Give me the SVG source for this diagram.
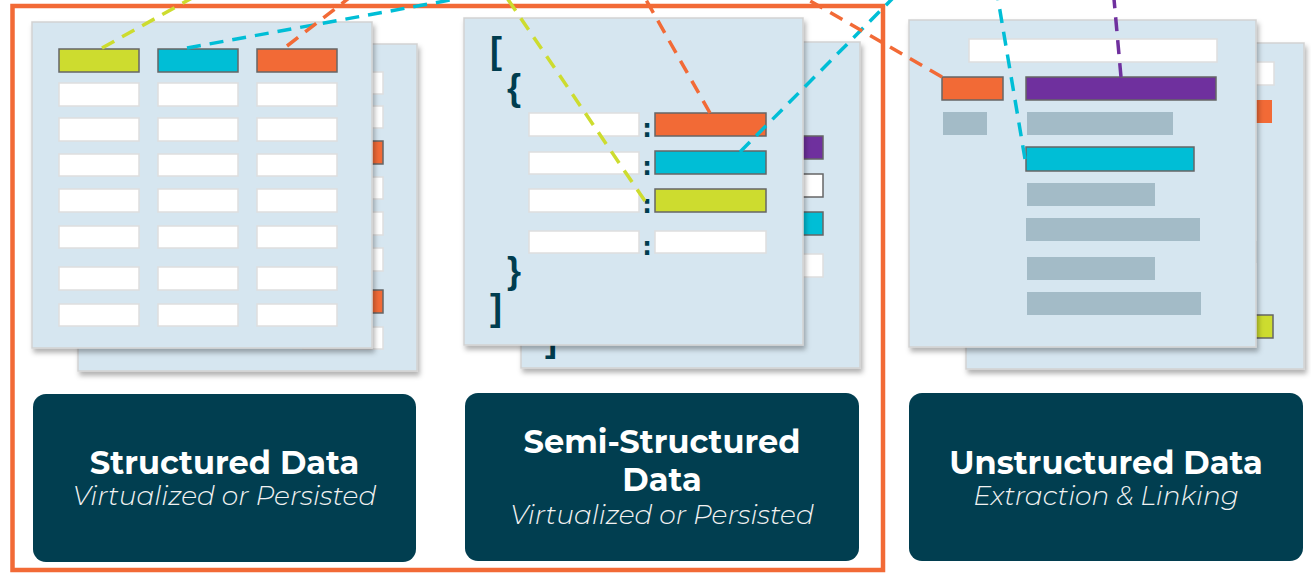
<svg xmlns="http://www.w3.org/2000/svg" width="1311" height="573" viewBox="0 0 1311 573">
<style>
.page{fill:#d6e6f0;stroke:#d2d2d2;stroke-width:1.5;filter:url(#sh)}
.cell{fill:#fff;stroke:#dedede;stroke-width:1.5}
.hd{stroke:#666;stroke-width:1.5}
.or{fill:#f26a36}.cy{fill:#00bed6}.yg{fill:#cddc2f}.pu{fill:#6f309e}
.bar{fill:#a3bbc7}
.box{fill:#013e50}
.t1{font-family:"Montserrat","Open Sans","Liberation Sans",sans-serif;font-weight:700;font-size:32px;fill:#fff;text-anchor:middle}
.t2{font-family:"Montserrat","Open Sans","Liberation Sans",sans-serif;font-weight:300;font-style:italic;font-size:26.5px;fill:#f2f2f2;text-anchor:middle}
.br{font-family:"Liberation Sans",sans-serif;font-weight:700;font-size:36px;fill:#003d4f}
.cl{font-family:"DejaVu Sans",sans-serif;font-weight:700;font-size:24px;fill:#003d4f;text-anchor:middle}
.dl{fill:none;stroke-width:3.5;stroke-dasharray:14 9}
</style>
<defs>
<filter id="sh" x="-10%" y="-10%" width="130%" height="130%">
<feDropShadow dx="2" dy="4" stdDeviation="2.5" flood-color="#000" flood-opacity="0.3"/>
</filter>
</defs>
<rect x="0" y="0" width="1311" height="573" fill="#fff"/>
<rect id="frame" x="12.5" y="6" width="870.5" height="564" fill="none" stroke="#f26a36" stroke-width="4.5"/>

<g id="structured">
<rect class="page" x="78" y="44" width="339" height="327"/>
<rect class="cell" x="303" y="72" width="80" height="22"/>
<rect class="cell" x="303" y="106" width="80" height="22"/>
<rect class="or hd" x="303" y="141" width="80" height="23"/>
<rect class="cell" x="303" y="177" width="80" height="22"/>
<rect class="cell" x="303" y="212" width="80" height="23"/>
<rect class="cell" x="303" y="248" width="80" height="23"/>
<rect class="or hd" x="303" y="290" width="80" height="23"/>
<rect class="cell" x="303" y="327" width="80" height="22"/>
<rect class="page" x="32" y="22" width="340" height="326"/>
<rect class="yg hd" x="59" y="49" width="80" height="23"/>
<rect class="cy hd" x="158" y="49" width="80" height="23"/>
<rect class="or hd" x="257" y="49" width="80" height="23"/>
<g>
<rect class="cell" x="59" y="83" width="80" height="23"/><rect class="cell" x="158" y="83" width="80" height="23"/><rect class="cell" x="257" y="83" width="80" height="23"/>
<rect class="cell" x="59" y="118" width="80" height="23"/><rect class="cell" x="158" y="118" width="80" height="23"/><rect class="cell" x="257" y="118" width="80" height="23"/>
<rect class="cell" x="59" y="154" width="80" height="22"/><rect class="cell" x="158" y="154" width="80" height="22"/><rect class="cell" x="257" y="154" width="80" height="22"/>
<rect class="cell" x="59" y="189" width="80" height="23"/><rect class="cell" x="158" y="189" width="80" height="23"/><rect class="cell" x="257" y="189" width="80" height="23"/>
<rect class="cell" x="59" y="226" width="80" height="22"/><rect class="cell" x="158" y="226" width="80" height="22"/><rect class="cell" x="257" y="226" width="80" height="22"/>
<rect class="cell" x="59" y="267" width="80" height="23"/><rect class="cell" x="158" y="267" width="80" height="23"/><rect class="cell" x="257" y="267" width="80" height="23"/>
<rect class="cell" x="59" y="304" width="80" height="22"/><rect class="cell" x="158" y="304" width="80" height="22"/><rect class="cell" x="257" y="304" width="80" height="22"/>
</g>
<rect class="box" x="33" y="394" width="383" height="168" rx="13"/>
<text class="t1" x="224.5" y="474">Structured Data</text>
<text class="t2" x="224.5" y="505">Virtualized or Persisted</text>
</g>

<g id="semi">
<rect class="page" x="521" y="42" width="339" height="326"/>
<text class="br" x="545" y="351">]</text>
<rect class="pu hd" x="712" y="136" width="111" height="23"/>
<rect x="712" y="174" width="111" height="23" fill="#fff" stroke="#666" stroke-width="1.5"/>
<rect class="cy hd" x="712" y="212" width="111" height="23"/>
<rect class="cell" x="712" y="254" width="111" height="23"/>
<rect class="page" x="464" y="18" width="339" height="327"/>
<text class="br" x="490" y="63">[</text>
<text class="br" x="507" y="100">{</text>
<text class="br" x="507" y="283">}</text>
<text class="br" x="490" y="320">]</text>
<rect class="cell" x="529" y="113" width="110" height="23"/>
<rect class="cell" x="529" y="152" width="110" height="22"/>
<rect class="cell" x="529" y="189" width="110" height="23"/>
<rect class="cell" x="529" y="231" width="110" height="22"/>
<text class="cl" x="647" y="137">:</text>
<text class="cl" x="647" y="175">:</text>
<text class="cl" x="647" y="213">:</text>
<text class="cl" x="647" y="255">:</text>
<rect class="or hd" x="655" y="113" width="111" height="23"/>
<rect class="cy hd" x="655" y="151" width="111" height="23"/>
<rect class="yg hd" x="655" y="189" width="111" height="23"/>
<rect class="cell" x="655" y="231" width="111" height="22"/>
<rect class="box" x="465" y="393" width="394" height="168" rx="13"/>
<text class="t1" x="662" y="453">Semi-Structured</text>
<text class="t1" x="662" y="491">Data</text>
<text class="t2" x="662" y="524">Virtualized or Persisted</text>
</g>

<g id="unstructured">
<rect class="page" x="966" y="43" width="338" height="326"/>
<rect class="cell" x="1230" y="62" width="44" height="23"/>
<rect class="or" x="1230" y="100" width="42" height="23"/>
<rect class="bar" x="1230" y="241" width="27" height="22"/>
<rect class="yg hd" x="1230" y="315" width="43" height="23"/>
<rect class="page" x="909" y="20" width="347" height="327"/>
<rect class="cell" x="969" y="39" width="248" height="23"/>
<rect class="or hd" x="942" y="77" width="61" height="23"/>
<rect class="pu hd" x="1026" y="77" width="190" height="23"/>
<rect class="bar" x="943" y="112" width="44" height="23"/>
<rect class="bar" x="1027" y="112" width="146" height="23"/>
<rect class="cy hd" x="1026" y="147" width="168" height="24"/>
<rect class="bar" x="1027" y="183" width="128" height="23"/>
<rect class="bar" x="1026" y="218" width="174" height="23"/>
<rect class="bar" x="1027" y="257" width="128" height="23"/>
<rect class="bar" x="1027" y="292" width="174" height="23"/>
<rect class="box" x="909" y="393" width="394" height="168" rx="13"/>
<text class="t1" x="1106" y="474">Unstructured Data</text>
<text class="t2" x="1106" y="505">Extraction &amp; Linking</text>
</g>

<g id="connectors">
<path class="dl" stroke="#cddc2f" d="M102,48 L192,-2"/>
<path class="dl" stroke="#cddc2f" d="M645,201 L507,-2"/>
<path class="dl" stroke="#00bed6" d="M187,48 L456,-1"/>
<path class="dl" stroke="#f26a36" d="M287,46 L349,-2"/>
<path class="dl" stroke="#f26a36" d="M710,113 L645,-2"/>
<path class="dl" stroke="#00bed6" d="M740,152 L893,-2"/>
<path class="dl" stroke="#f26a36" d="M942,77 L805,-2"/>
<path class="dl" stroke="#00bed6" d="M1025,159 L998,-1"/>
<path class="dl" stroke="#6f309e" d="M1121,77 L1114,-1"/>
</g>
</svg>
